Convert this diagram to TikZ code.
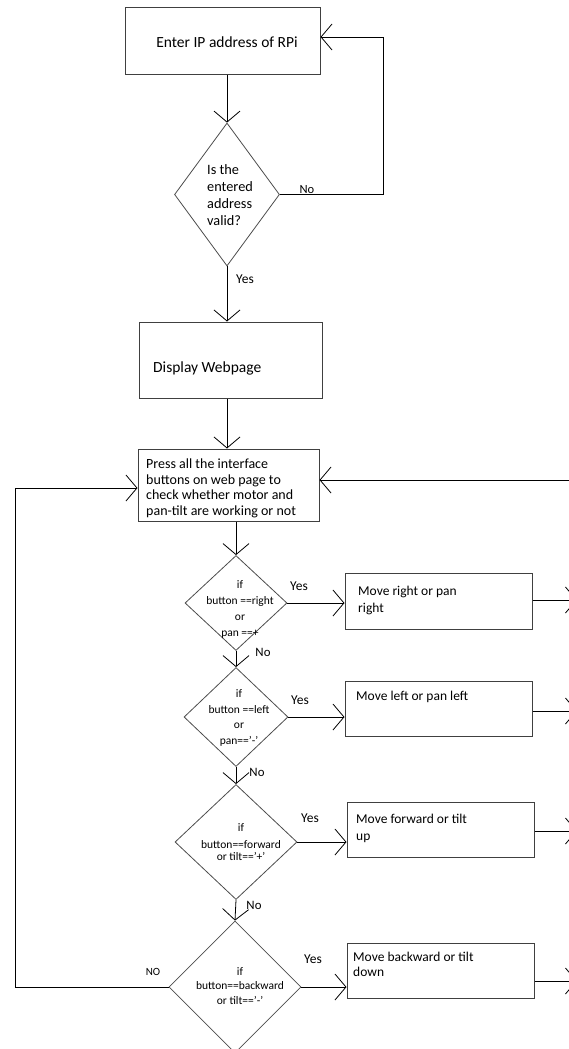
\documentclass[tikz,border=0pt]{standalone}
\usepackage{fontspec}
\setmainfont{Carlito}
\usetikzlibrary{shapes.geometric,arrows.meta}
\begin{document}
\begin{tikzpicture}[x=1pt,y=-1pt,
  box/.style={draw=black!75, line width=1pt, rectangle, inner sep=0pt},
  dia/.style={draw=black!70, line width=0.8pt, diamond, inner sep=0pt},
  arr/.style={draw=black, line width=0.8pt, -{Straight Barb[length=11pt,width=26pt]}},
  bigtxt/.style={font=\fontsize{15.5}{18}\selectfont, inner sep=0pt},
  midtxt/.style={font=\fontsize{13.5}{17}\selectfont, align=left, inner sep=0pt},
  smalltxt/.style={font=\fontsize{11.5}{15.7}\selectfont, align=center, inner sep=0pt},
  lbl/.style={font=\fontsize{13.5}{16}\selectfont, inner sep=0pt}]
\useasboundingbox (0,0) rectangle (568,1049);
% boxes and decisions (base anchors sit on the last text line)
\node[box, minimum width=195pt, minimum height=66pt] (enter) at (222.5,41) {};
\node[bigtxt, anchor=base] (enter-t) at (227,47.5) {Enter IP address of RPi};
\node[dia, minimum width=105pt, minimum height=143pt] (valid) at (227,194.5) {};
\node[font=\fontsize{14.3}{17}\selectfont, align=left, inner sep=0pt, anchor=base west] (valid-t) at (207,225.5) {Is the\\entered\\address\\valid?};
\node[box, minimum width=183pt, minimum height=76pt] (display) at (230.5,360) {};
\node[bigtxt, anchor=base west] (display-t) at (153,372.5) {Display Webpage};
\node[box, minimum width=181pt, minimum height=72pt] (press) at (228.5,485) {};
\node[font=\fontsize{14}{15.7}\selectfont, align=left, inner sep=0pt, anchor=base west] (press-t) at (146,515.6) {Press all the interface\\buttons on web page to\\check whether motor and\\pan-tilt are working or not};
\node[dia, minimum width=102pt, minimum height=95pt] (rdia) at (236,603) {};
\node[smalltxt] (rdia-t) at (240,609.5) {if\\button ==right\\or\\pan ==+};
\node[box, minimum width=187pt, minimum height=56pt] (mvright) at (438.5,601) {};
\node[midtxt, anchor=base west] (mvright-t) at (358,612.2) {Move right or pan\\right};
\node[dia, minimum width=104pt, minimum height=99pt] (ldia) at (236,717) {};
\node[smalltxt] (ldia-t) at (239,718) {if\\button ==left\\or\\pan=='-'};
\node[box, minimum width=187pt, minimum height=55pt] (mvleft) at (438.5,708.5) {};
\node[midtxt, anchor=base west] (mvleft-t) at (356,700.2) {Move left or pan left};
\node[dia, minimum width=122pt, minimum height=115pt] (fdia) at (236,842) {};
\node[smalltxt, font=\fontsize{11.5}{12.5}\selectfont] (fdia-t) at (241,842.5) {if\\[4pt]button==forward\\or tilt=='+'};
\node[box, minimum width=187pt, minimum height=55pt] (mvfwd) at (440.5,829.5) {};
\node[midtxt, anchor=base west] (mvfwd-t) at (356,840.2) {Move forward or tilt\\up};
\node[dia, minimum width=132pt, minimum height=132pt] (bdia) at (235,987) {};
\node[smalltxt, font=\fontsize{11.5}{14.5}\selectfont] (bdia-t) at (240,986) {if\\button==backward\\or tilt=='-'};
\node[box, minimum width=187pt, minimum height=55pt] (mvback) at (440.5,970.5) {};
\node[midtxt, font=\fontsize{13.5}{15}\selectfont, anchor=base west] (mvback-t) at (353,976.2) {Move backward or tilt\\down};
% connectors
\coordinate (noback) at (383,37);
\coordinate (loopc) at (15,488);
\coordinate (retc) at (580,480);
\draw[arr] (valid.north |- enter.south) -- (valid.north);
\draw[arr] (valid.east) -| (noback) -- (noback -| enter.east);
\draw[arr] (valid.south) -- (valid.south |- display.north);
\draw[arr] (valid.south |- display.south) -- (valid.south |- press.north);
\draw[arr] (rdia.north |- press.south) -- (rdia.north);
\draw[arr] (rdia.east) -- (rdia.east -| mvright.west);
\draw[arr] (rdia.south) -- (ldia.north);
\draw[arr] (ldia.east) -- (ldia.east -| mvleft.west);
\draw[arr] (ldia.south) -- (fdia.north);
\draw[arr] (fdia.east) -- (fdia.east -| mvfwd.west);
\draw[arr] (fdia.south) -- (bdia.north);
\draw[arr] (bdia.east) -- (bdia.east -| mvback.west);
\draw[arr] (bdia.west) -| (loopc) -- (loopc -| press.west);
\draw[arr] (retc) -- (retc -| press.east);
\foreach \b/\y in {mvright/600,mvleft/711,mvfwd/831,mvback/981}
  \draw[arr] (\b.east |- 0,\y) -- (577,\y);
% labels
\node[lbl, font=\fontsize{12.5}{14}\selectfont] (valid-no) at (307,190) {No};
\node[lbl] (valid-yes) at (245,279) {Yes};
\node[lbl] (rdia-yes) at (299,586) {Yes};
\node[lbl, font=\fontsize{12.8}{14}\selectfont] (rdia-no) at (263,652) {No};
\node[lbl] (ldia-yes) at (300,700) {Yes};
\node[lbl, font=\fontsize{12.8}{14}\selectfont] (ldia-no) at (257,772) {No};
\node[lbl] (fdia-yes) at (310,818) {Yes};
\node[lbl, font=\fontsize{12.8}{14}\selectfont] (fdia-no) at (254,905) {No};
\node[lbl] (bdia-yes) at (313,959) {Yes};
\node[lbl, font=\fontsize{11}{13}\selectfont] (bdia-no) at (153,972) {NO};
\end{tikzpicture}
\end{document}
